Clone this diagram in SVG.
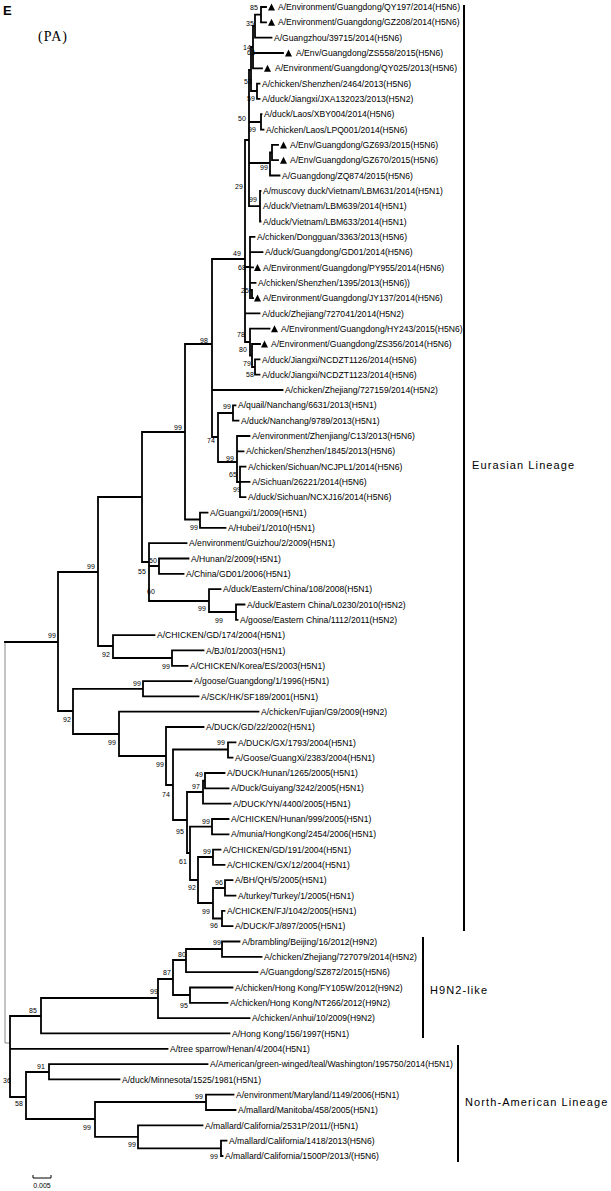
<svg xmlns="http://www.w3.org/2000/svg" width="611" height="1191" viewBox="0 0 611 1191">
<style>
.br{stroke:#000;stroke-width:1.8;fill:none;stroke-linecap:square}
.thin{stroke:#888;stroke-width:1;fill:none}
.lf{font-family:"Liberation Sans",Arial,sans-serif;font-size:8.6px;fill:#000}
.bs{font-family:"Liberation Sans",Arial,sans-serif;font-size:7px;fill:#000}
.cl{font-family:"Liberation Sans",Arial,sans-serif;font-size:11px;fill:#000;letter-spacing:1.1px}
.bar{stroke:#000;stroke-width:2;fill:none}
</style>
<defs><path id="tri" d="M0,3.5 L7,3.5 L3.5,-3.5Z" fill="#000"/></defs>
<rect width="611" height="1191" fill="#fff"/>
<text x="3" y="15" font-family="Liberation Sans,Arial,sans-serif" font-size="13" font-weight="bold">E</text>
<text x="38" y="41" font-family="Liberation Serif,Times New Roman,serif" font-size="14" letter-spacing="1">(PA)</text>
<g id="connectors">
<path class="thin" d="M5,642V1043H10"/>
<path class="br" d="
M261,7V22.3 M261,7H266 M261,22.3H266 M255,14.6H261 M255,14.6V37.6H271.5 M253,26H255
M253,26V68.3 M253,53H283 M253,68.3H262 M251,47V91 M251,47H253 M251,91H257 M257,83.6V98.9 M257,83.6H259.5 M257,98.9H259.5
M249,70V206.2 M249,70H251 M249,122H261 M261,114.2V129.6 M261,114.2H261.5 M261,129.6H263.5
M249,163H270 M270,152.5V175.5H279.5 M270,152.5H272 M272,144.9V160.2 M272,144.9H278 M272,160.2H278
M249,206.2H260 M260,190.8V221.5 M260,190.8H260.5 M260,221.5H260.5
M245,140V342 M245,140H249 M212,259H245
M245,267H250 M250,236.8V298.1 M250,236.8H254.5 M250,252.1H262.5 M250,267.4H253 M250,282.8H255.5 M252,290V298.1 M250,290H252 M252,298.1H253
M245,313.4H259.5
M245,342H250 M250,328.7V355.5 M250,328.7H269.5 M250,355.5H252 M252,344V367 M252,344H260 M252,367H255 M255,359.4V374.7 M255,359.4H259.5 M255,374.7H259.5
M185,344V519.5 M185,344H212 M212,259V437 M212,390H282.5 M212,437H218
M218,413V462 M218,413H233 M233,405.3V420.6 M233,405.3H235.5 M233,420.6H238.5
M218,462H237 M237,436V482 M237,436H249.5 M237,451.3H243.5 M237,482H240 M240,466.6V497.2 M240,466.6H245.5 M240,481.9H249.5 M240,497.2H245.5
M185,519.5H200 M200,512.6V527.9 M200,512.6H207.5 M200,527.9H225.5
M142,432H185 M142,432V562 M98,497H142
M142,562H149 M149,543.2V601 M149,543.2H186.5 M149,566H159 M159,558.5V573.8 M159,558.5H188.5 M159,573.8H183.5
M149,601H209 M209,589.2V612 M209,589.2H220.5 M209,612H236 M236,604.5V619.8 M236,604.5H244.5 M236,619.8H237.5
M98,497V646 M58,572H98 M98,646H113 M113,635.1V658 M113,635.1H154.5 M113,658H172 M172,650.4V665.8 M172,650.4H203.5 M172,665.8H187.5
M58,572V711 M5,642H58
M58,711H73 M73,688.8V734 M73,688.8H143 M143,681.1V696.4 M143,681.1H191.5 M143,696.4H198.5
M73,734H119 M119,711.7V756 M119,711.7H258.5 M119,756H166 M166,727V785 M166,727H203.5
M166,785H173 M173,749.5V820 M173,749.5H228 M228,742.4V757.7 M228,742.4H235.5 M228,757.7H232.5
M173,820H187 M187,792V853 M187,792H203 M203,780.7V803.6 M203,780.7H205 M205,773V788.3 M205,773H224.5 M205,788.3H228.5 M203,803.6H230.5
M187,853H190 M190,826.6V880 M190,826.6H212 M212,819V834.3 M212,819H228.5 M212,834.3H228.5
M190,880H198 M198,857V903 M198,857H213 M213,849.6V864.9 M213,849.6H220.5 M213,864.9H224.5
M198,903H213 M213,888V918.5 M213,888H225 M225,880.2V895.6 M225,880.2H232.5 M225,895.6H235.5
M213,918.5H222 M222,910.9V926.2 M222,910.9H224.5 M222,926.2H232.5
M10,1016V1097 M10,1016H41 M41,998V1033.4 M41,1033.4H229.5
M41,998H158 M158,979V1018.1 M158,1018.1H249.5
M158,979H173 M173,960V995 M173,960H186 M186,949V972.2 M186,972.2H257.5
M186,949H222 M222,941.5V956.8 M222,941.5H239.5 M222,956.8H261.5
M173,995H190 M190,987.5V1002.8 M190,987.5H232.5 M190,1002.8H227.5
M10,1048.8H167.5
M10,1097H26 M26,1072V1119 M26,1072H49 M49,1064.1V1079.4 M49,1064.1H207.5 M49,1079.4H119.5
M26,1119H95 M95,1102V1136.9 M95,1102H206 M206,1094.7V1110 M206,1094.7H233.5 M206,1110H235.5
M95,1136.9H138 M138,1125.4V1148.4 M138,1125.4H202.5 M138,1148.4H221 M221,1140.7V1156 M221,1140.7H226.5 M221,1156H222.5
"/>
</g>
<g id="clade-bars">
<path class="bar" d="M464,5V931"/>
<path class="bar" d="M423,937V1038"/>
<path class="bar" d="M458,1045V1162"/>
</g>
<g id="clade-eurasian"><text class="cl" x="472" y="469">Eurasian Lineage</text></g>
<g id="clade-h9n2"><text class="cl" x="430" y="994" letter-spacing="0.6">H9N2-like</text></g>
<g id="clade-northamerican"><text class="cl" x="465" y="1106">North-American Lineage</text></g>
<g id="leaves">
<g id="leaf-1"><use href="#tri" x="268" y="7"/><text class="lf" x="278" y="10.1">A/Environment/Guangdong/QY197/2014(H5N6)</text></g>
<g id="leaf-2"><use href="#tri" x="268" y="22.3"/><text class="lf" x="278" y="25.4">A/Environment/Guangdong/GZ208/2014(H5N6)</text></g>
<g id="leaf-3"><text class="lf" x="274" y="40.7">A/Guangzhou/39715/2014(H5N6)</text></g>
<g id="leaf-4"><use href="#tri" x="285" y="53"/><text class="lf" x="296" y="56.1">A/Env/Guangdong/ZS558/2015(H5N6)</text></g>
<g id="leaf-5"><use href="#tri" x="264" y="68.3"/><text class="lf" x="275" y="71.4">A/Environment/Guangdong/QY025/2013(H5N6)</text></g>
<g id="leaf-6"><text class="lf" x="262" y="86.7">A/chicken/Shenzhen/2464/2013(H5N6)</text></g>
<g id="leaf-7"><text class="lf" x="262" y="102">A/duck/Jiangxi/JXA132023/2013(H5N2)</text></g>
<g id="leaf-8"><text class="lf" x="264" y="117.3">A/duck/Laos/XBY004/2014(H5N6)</text></g>
<g id="leaf-9"><text class="lf" x="266" y="132.7">A/chicken/Laos/LPQ001/2014(H5N6)</text></g>
<g id="leaf-10"><use href="#tri" x="280" y="144.9"/><text class="lf" x="290" y="148">A/Env/Guangdong/GZ693/2015(H5N6)</text></g>
<g id="leaf-11"><use href="#tri" x="280" y="160.2"/><text class="lf" x="290" y="163.3">A/Env/Guangdong/GZ670/2015(H5N6)</text></g>
<g id="leaf-12"><text class="lf" x="282" y="178.6">A/Guangdong/ZQ874/2015(H5N6)</text></g>
<g id="leaf-13"><text class="lf" x="263" y="193.9">A/muscovy duck/Vietnam/LBM631/2014(H5N1)</text></g>
<g id="leaf-14"><text class="lf" x="263" y="209.3">A/duck/Vietnam/LBM639/2014(H5N1)</text></g>
<g id="leaf-15"><text class="lf" x="263" y="224.6">A/duck/Vietnam/LBM633/2014(H5N1)</text></g>
<g id="leaf-16"><text class="lf" x="257" y="239.9">A/chicken/Dongguan/3363/2013(H5N6)</text></g>
<g id="leaf-17"><text class="lf" x="265" y="255.2">A/duck/Guangdong/GD01/2014(H5N6)</text></g>
<g id="leaf-18"><use href="#tri" x="254" y="267.4"/><text class="lf" x="263" y="270.5">A/Environment/Guangdong/PY955/2014(H5N6)</text></g>
<g id="leaf-19"><text class="lf" x="258" y="285.9">A/chicken/Shenzhen/1395/2013(H5N6))</text></g>
<g id="leaf-20"><use href="#tri" x="254" y="298.1"/><text class="lf" x="263" y="301.2">A/Environment/Guangdong/JY137/2014(H5N6)</text></g>
<g id="leaf-21"><text class="lf" x="262" y="316.5">A/duck/Zhejiang/727041/2014(H5N2)</text></g>
<g id="leaf-22"><use href="#tri" x="271" y="328.7"/><text class="lf" x="281" y="331.8">A/Environment/Guangdong/HY243/2015(H5N6)</text></g>
<g id="leaf-23"><use href="#tri" x="261" y="344"/><text class="lf" x="271" y="347.1">A/Environment/Guangdong/ZS356/2014(H5N6)</text></g>
<g id="leaf-24"><text class="lf" x="262" y="362.5">A/duck/Jiangxi/NCDZT1126/2014(H5N6)</text></g>
<g id="leaf-25"><text class="lf" x="262" y="377.8">A/duck/Jiangxi/NCDZT1123/2014(H5N6)</text></g>
<g id="leaf-26"><text class="lf" x="285" y="393.1">A/chicken/Zhejiang/727159/2014(H5N2)</text></g>
<g id="leaf-27"><text class="lf" x="238" y="408.4">A/quail/Nanchang/6631/2013(H5N1)</text></g>
<g id="leaf-28"><text class="lf" x="241" y="423.7">A/duck/Nanchang/9789/2013(H5N1)</text></g>
<g id="leaf-29"><text class="lf" x="252" y="439.1">A/environment/Zhenjiang/C13/2013(H5N6)</text></g>
<g id="leaf-30"><text class="lf" x="246" y="454.4">A/chicken/Shenzhen/1845/2013(H5N6)</text></g>
<g id="leaf-31"><text class="lf" x="248" y="469.7">A/chicken/Sichuan/NCJPL1/2014(H5N6)</text></g>
<g id="leaf-32"><text class="lf" x="252" y="485">A/Sichuan/26221/2014(H5N6)</text></g>
<g id="leaf-33"><text class="lf" x="248" y="500.3">A/duck/Sichuan/NCXJ16/2014(H5N6)</text></g>
<g id="leaf-34"><text class="lf" x="210" y="515.7">A/Guangxi/1/2009(H5N1)</text></g>
<g id="leaf-35"><text class="lf" x="228" y="531">A/Hubei/1/2010(H5N1)</text></g>
<g id="leaf-36"><text class="lf" x="189" y="546.3">A/environment/Guizhou/2/2009(H5N1)</text></g>
<g id="leaf-37"><text class="lf" x="191" y="561.6">A/Hunan/2/2009(H5N1)</text></g>
<g id="leaf-38"><text class="lf" x="186" y="576.9">A/China/GD01/2006(H5N1)</text></g>
<g id="leaf-39"><text class="lf" x="223" y="592.3">A/duck/Eastern/China/108/2008(H5N1)</text></g>
<g id="leaf-40"><text class="lf" x="247" y="607.6">A/duck/Eastern China/L0230/2010(H5N2)</text></g>
<g id="leaf-41"><text class="lf" x="240" y="622.9">A/goose/Eastern China/1112/2011(H5N2)</text></g>
<g id="leaf-42"><text class="lf" x="157" y="638.2">A/CHICKEN/GD/174/2004(H5N1)</text></g>
<g id="leaf-43"><text class="lf" x="206" y="653.5">A/BJ/01/2003(H5N1)</text></g>
<g id="leaf-44"><text class="lf" x="190" y="668.9">A/CHICKEN/Korea/ES/2003(H5N1)</text></g>
<g id="leaf-45"><text class="lf" x="194" y="684.2">A/goose/Guangdong/1/1996(H5N1)</text></g>
<g id="leaf-46"><text class="lf" x="201" y="699.5">A/SCK/HK/SF189/2001(H5N1)</text></g>
<g id="leaf-47"><text class="lf" x="261" y="714.8">A/chicken/Fujian/G9/2009(H9N2)</text></g>
<g id="leaf-48"><text class="lf" x="206" y="730.1">A/DUCK/GD/22/2002(H5N1)</text></g>
<g id="leaf-49"><text class="lf" x="238" y="745.5">A/DUCK/GX/1793/2004(H5N1)</text></g>
<g id="leaf-50"><text class="lf" x="235" y="760.8">A/Goose/GuangXi/2383/2004(H5N1)</text></g>
<g id="leaf-51"><text class="lf" x="227" y="776.1">A/DUCK/Hunan/1265/2005(H5N1)</text></g>
<g id="leaf-52"><text class="lf" x="231" y="791.4">A/Duck/Guiyang/3242/2005(H5N1)</text></g>
<g id="leaf-53"><text class="lf" x="233" y="806.7">A/DUCK/YN/4400/2005(H5N1)</text></g>
<g id="leaf-54"><text class="lf" x="231" y="822.1">A/CHICKEN/Hunan/999/2005(H5N1)</text></g>
<g id="leaf-55"><text class="lf" x="231" y="837.4">A/munia/HongKong/2454/2006(H5N1)</text></g>
<g id="leaf-56"><text class="lf" x="223" y="852.7">A/CHICKEN/GD/191/2004(H5N1)</text></g>
<g id="leaf-57"><text class="lf" x="227" y="868">A/CHICKEN/GX/12/2004(H5N1)</text></g>
<g id="leaf-58"><text class="lf" x="235" y="883.3">A/BH/QH/5/2005(H5N1)</text></g>
<g id="leaf-59"><text class="lf" x="238" y="898.7">A/turkey/Turkey/1/2005(H5N1)</text></g>
<g id="leaf-60"><text class="lf" x="227" y="914">A/CHICKEN/FJ/1042/2005(H5N1)</text></g>
<g id="leaf-61"><text class="lf" x="235" y="929.3">A/DUCK/FJ/897/2005(H5N1)</text></g>
<g id="leaf-62"><text class="lf" x="242" y="944.6">A/brambling/Beijing/16/2012(H9N2)</text></g>
<g id="leaf-63"><text class="lf" x="264" y="959.9">A/chicken/Zhejiang/727079/2014(H5N2)</text></g>
<g id="leaf-64"><text class="lf" x="260" y="975.3">A/Guangdong/SZ872/2015(H5N6)</text></g>
<g id="leaf-65"><text class="lf" x="235" y="990.6">A/chicken/Hong Kong/FY105W/2012(H9N2)</text></g>
<g id="leaf-66"><text class="lf" x="230" y="1005.9">A/chicken/Hong Kong/NT266/2012(H9N2)</text></g>
<g id="leaf-67"><text class="lf" x="252" y="1021.2">A/chicken/Anhui/10/2009(H9N2)</text></g>
<g id="leaf-68"><text class="lf" x="232" y="1036.5">A/Hong Kong/156/1997(H5N1)</text></g>
<g id="leaf-69"><text class="lf" x="170" y="1051.9">A/tree sparrow/Henan/4/2004(H5N1)</text></g>
<g id="leaf-70"><text class="lf" x="210" y="1067.2">A/American/green-winged/teal/Washington/195750/2014(H5N1)</text></g>
<g id="leaf-71"><text class="lf" x="122" y="1082.5">A/duck/Minnesota/1525/1981(H5N1)</text></g>
<g id="leaf-72"><text class="lf" x="236" y="1097.8">A/environment/Maryland/1149/2006(H5N1)</text></g>
<g id="leaf-73"><text class="lf" x="238" y="1113.1">A/mallard/Manitoba/458/2005(H5N1)</text></g>
<g id="leaf-74"><text class="lf" x="205" y="1128.5">A/mallard/California/2531P/2011/(H5N1)</text></g>
<g id="leaf-75"><text class="lf" x="229" y="1143.8">A/mallard/California/1418/2013(H5N6)</text></g>
<g id="leaf-76"><text class="lf" x="225" y="1159.1">A/mallard/California/1500P/2013/(H5N6)</text></g>
</g>
<g id="bootstrap">
<text class="bs" x="250" y="10">85</text>
<text class="bs" x="246" y="26">35</text>
<text class="bs" x="243" y="50">14</text>
<text class="bs" x="247" y="55">63</text>
<text class="bs" x="244" y="84">53</text>
<text class="bs" x="247" y="101">59</text>
<text class="bs" x="238" y="121">50</text>
<text class="bs" x="248" y="132">99</text>
<text class="bs" x="260" y="170">99</text>
<text class="bs" x="235" y="189">29</text>
<text class="bs" x="249" y="202">99</text>
<text class="bs" x="233" y="256">49</text>
<text class="bs" x="238" y="270">68</text>
<text class="bs" x="241" y="293">25</text>
<text class="bs" x="237" y="337">78</text>
<text class="bs" x="239" y="352">80</text>
<text class="bs" x="243" y="366">79</text>
<text class="bs" x="246" y="377">58</text>
<text class="bs" x="200" y="343">98</text>
<text class="bs" x="174" y="430">99</text>
<text class="bs" x="223" y="409">99</text>
<text class="bs" x="207" y="443">74</text>
<text class="bs" x="226" y="461">99</text>
<text class="bs" x="229" y="477">65</text>
<text class="bs" x="233" y="492">99</text>
<text class="bs" x="190" y="530">99</text>
<text class="bs" x="149" y="563">50</text>
<text class="bs" x="138" y="574">55</text>
<text class="bs" x="147" y="594">60</text>
<text class="bs" x="198" y="611">99</text>
<text class="bs" x="215" y="623">99</text>
<text class="bs" x="87" y="569">99</text>
<text class="bs" x="48" y="638">99</text>
<text class="bs" x="102" y="657">92</text>
<text class="bs" x="162" y="669">99</text>
<text class="bs" x="133" y="686">99</text>
<text class="bs" x="63" y="722">92</text>
<text class="bs" x="108" y="745">99</text>
<text class="bs" x="156" y="767">99</text>
<text class="bs" x="162" y="797">74</text>
<text class="bs" x="217" y="745">99</text>
<text class="bs" x="195" y="777">49</text>
<text class="bs" x="192" y="789">97</text>
<text class="bs" x="202" y="824">99</text>
<text class="bs" x="176" y="834">95</text>
<text class="bs" x="179" y="864">61</text>
<text class="bs" x="203" y="854">99</text>
<text class="bs" x="188" y="890">92</text>
<text class="bs" x="215" y="885">96</text>
<text class="bs" x="202" y="914">99</text>
<text class="bs" x="210" y="928">96</text>
<text class="bs" x="213" y="945">99</text>
<text class="bs" x="178" y="957">80</text>
<text class="bs" x="163" y="975">87</text>
<text class="bs" x="150" y="994">99</text>
<text class="bs" x="180" y="1008">95</text>
<text class="bs" x="29" y="1013">85</text>
<text class="bs" x="3" y="1083">36</text>
<text class="bs" x="37" y="1069">91</text>
<text class="bs" x="15" y="1106">58</text>
<text class="bs" x="195" y="1099">99</text>
<text class="bs" x="83" y="1130">99</text>
<text class="bs" x="128" y="1147">99</text>
<text class="bs" x="210" y="1159">99</text>
</g>
<g id="scale-bar">
<path d="M33,1175V1178H51V1175" stroke="#000" stroke-width="1" fill="none"/>
<text class="bs" x="42" y="1188" text-anchor="middle">0.005</text>
</g>
</svg>
